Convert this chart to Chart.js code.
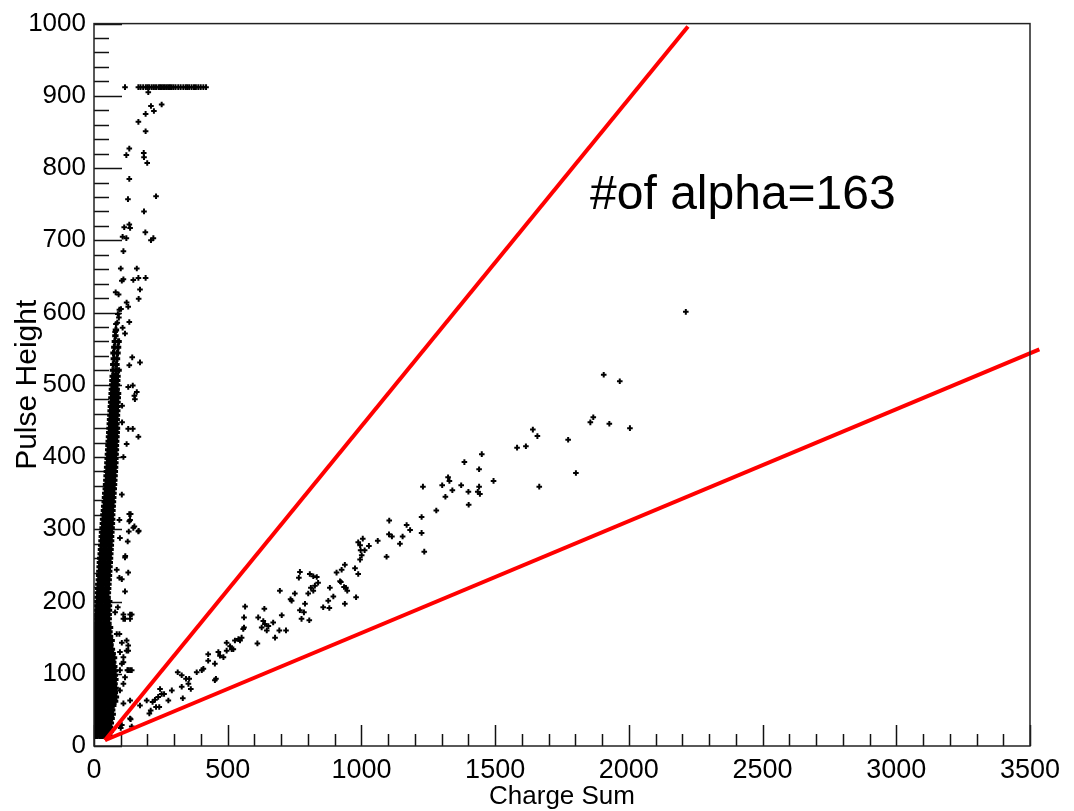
<!DOCTYPE html>
<html>
<head>
<meta charset="utf-8">
<title>Pulse Height vs Charge Sum</title>
<script src="https://cdn.jsdelivr.net/npm/chart.js@4"></script>
<style>
  html, body { margin: 0; padding: 0; background: #fff; }
  #wrap { width: 1074px; height: 811px; position: relative; }
</style>
</head>
<body>
<div id="wrap"><canvas id="c"></canvas></div>
<script>
// ---- axis ranges and tick values ----
const xRange = [0, 3500];
const yRange = [0, 1000];
const xMajorTicks = [0, 500, 1000, 1500, 2000, 2500, 3000, 3500];
const yMajorTicks = [0, 100, 200, 300, 400, 500, 600, 700, 800, 900, 1000];
const xMinorStep = 100;
const yMinorStep = 20;

// ---- gamma-like events: dense core near zero charge, one row per pulse height ----
const coreRows = [
  [14, [3, 12, 22, 31, 41, 50, 58]],
  [20, [5, 15, 24, 34, 43, 53, 62]],
  [26, [3, 13, 22, 32, 42, 51, 60]],
  [32, [6, 16, 25, 35, 44, 54, 63]],
  [38, [3, 12, 21, 31, 40, 50, 59, 66]],
  [44, [5, 14, 24, 33, 43, 52, 62, 70]],
  [50, [3, 13, 22, 32, 41, 51, 60, 68]],
  [56, [6, 15, 25, 34, 44, 53, 63, 72]],
  [62, [4, 13, 23, 32, 42, 51, 61, 71, 79]],
  [68, [6, 16, 25, 35, 44, 54, 63, 73, 82]],
  [74, [3, 13, 22, 32, 41, 51, 60, 70, 78]],
  [80, [5, 15, 24, 34, 43, 53, 62, 72, 81]],
  [86, [3, 12, 22, 31, 41, 50, 60, 69, 77]],
  [92, [6, 15, 25, 34, 44, 53, 63, 72, 80]],
  [98, [4, 13, 23, 32, 42, 51, 61, 70, 78]],
  [104, [5, 15, 24, 34, 43, 53, 62, 71, 79]],
  [110, [3, 12, 22, 31, 41, 50, 60, 68, 76]],
  [116, [6, 16, 25, 35, 44, 54, 63, 72]],
  [122, [4, 13, 23, 32, 42, 51, 60, 68, 75]],
  [128, [5, 15, 24, 34, 43, 53, 62, 70]],
  [134, [3, 12, 22, 31, 41, 50, 59, 67]],
  [140, [6, 15, 25, 34, 44, 53, 62]],
  [146, [4, 13, 23, 32, 42, 51, 60, 66]],
  [152, [5, 14, 24, 33, 43, 52, 60]],
  [158, [3, 12, 22, 31, 41, 50, 58]],
  [164, [6, 15, 25, 34, 44, 53, 60]],
  [170, [7, 17, 26, 36, 45, 54]],
  [176, [8, 18, 27, 37, 46, 55]],
  [182, [9, 19, 28, 38, 47, 55]],
  [188, [10, 20, 29, 39, 48, 56]],
  [194, [11, 21, 30, 40, 49, 56]],
  [200, [12, 22, 31, 41, 50, 57]],
  [206, [13, 23, 32, 42, 51]],
  [212, [14, 24, 33, 43, 52]],
  [218, [15, 25, 34, 44, 53]],
  [224, [16, 26, 35, 45, 54]],
  [230, [18, 27, 37, 46, 55]],
  [236, [19, 29, 38, 48, 56]],
  [242, [20, 30, 39, 49, 57]],
  [248, [21, 31, 40, 50, 58]],
  [254, [22, 32, 41, 51, 59]],
  [260, [23, 33, 42, 52, 60]],
  [266, [25, 34, 44, 53, 61]],
  [272, [26, 36, 45, 55, 62]],
  [278, [27, 37, 46, 56, 63]],
  [284, [28, 38, 47, 57, 64]],
  [290, [29, 39, 48, 58, 64]],
  [296, [30, 40, 49, 59, 65]],
  [302, [32, 41, 51, 60, 66]],
  [308, [33, 43, 52, 61, 67]],
  [314, [34, 44, 53, 62, 68]],
  [320, [35, 45, 54, 63, 68]],
  [326, [37, 46, 56, 64, 69]],
  [332, [38, 48, 57, 65, 70]],
  [338, [40, 49, 58, 66, 71]],
  [344, [41, 50, 59, 67, 72]],
  [350, [42, 51, 60, 68, 73]],
  [356, [44, 53, 62, 70, 74]],
  [362, [45, 54, 63, 71, 75]],
  [368, [46, 55, 64, 72, 76]],
  [374, [47, 56, 65, 73, 77]],
  [380, [48, 57, 66, 74, 78]],
  [386, [49, 58, 67, 75, 79]],
  [392, [50, 59, 68, 76, 80]],
  [398, [51, 60, 69, 77, 80]],
  [404, [52, 61, 70, 78, 81]],
  [410, [53, 62, 71, 78, 82]],
  [416, [54, 63, 72, 79, 82]],
  [422, [55, 64, 73, 80, 83]],
  [428, [56, 65, 74, 81, 84]],
  [434, [57, 66, 75, 82, 85]],
  [440, [58, 67, 76, 83, 86]],
  [446, [59, 68, 77, 84]],
  [452, [60, 69, 78, 85]],
  [458, [61, 70, 79, 86]],
  [464, [62, 71, 80, 87]],
  [470, [63, 72, 81, 88]],
  [476, [64, 73, 82, 88]],
  [482, [65, 74, 83, 89]],
  [488, [66, 75, 84, 90]],
  [494, [67, 76, 85]],
  [500, [68, 77, 86]],
  [506, [69, 78, 87]],
  [512, [70, 79, 88]],
  [520, [71, 82, 92]],
  [528, [72, 84]],
  [536, [74, 86]],
  [544, [73, 88]],
  [552, [76, 90]],
  [560, [78, 92]],
  [568, [80]],
  [576, [82]]
];

// saturated events (pulse height clipped by the ADC)
const saturationY = 912;
const saturationX = [116, 166, 174, 184, 194, 201, 207, 216, 224, 232, 241, 247, 253, 259, 265,
  272, 278, 284, 290, 297, 305, 315, 324, 334, 343, 349, 356, 365, 374, 381, 390, 399, 409, 419];

// isolated gamma-like events around the core
const haloPoints = [
  [203, 905], [213, 886], [253, 888], [224, 879], [193, 875], [166, 864], [193, 851], [132, 827],
  [121, 818], [186, 821], [187, 815], [199, 807], [132, 785], [127, 757], [232, 761], [187, 740],
  [113, 718], [132, 722], [135, 717], [107, 705], [121, 703], [192, 711], [213, 700], [222, 703],
  [110, 685], [100, 661], [160, 661], [193, 648], [104, 644], [110, 646], [147, 645], [166, 648],
  [172, 632], [167, 619], [81, 628], [92, 625], [122, 614], [128, 608], [95, 604], [101, 605],
  [89, 598], [93, 593], [87, 586], [82, 584], [107, 579], [132, 587], [79, 573], [116, 571],
  [143, 538], [132, 527], [172, 531], [128, 497], [145, 499], [160, 490], [153, 480], [151, 485],
  [105, 471], [105, 448], [128, 439], [145, 439], [166, 428], [122, 418], [110, 400], [104, 348],
  [132, 321], [95, 313], [132, 311], [151, 304], [167, 298], [130, 297], [97, 288], [126, 283],
  [117, 263], [137, 321], [135, 313], [147, 302], [166, 297], [116, 261], [85, 244], [104, 231],
  [95, 233], [128, 240], [116, 214], [89, 192], [110, 182], [141, 182], [135, 176], [110, 176],
  [95, 155], [122, 146], [128, 132], [97, 130], [110, 123], [135, 105], [125, 105], [104, 114],
  [116, 95], [110, 86], [97, 77], [135, 63], [110, 59], [97, 29], [135, 38], [79, 185],
  [116, 176], [135, 182], [85, 155], [104, 143], [122, 132], [128, 139], [110, 116], [128, 105],
  [141, 105], [97, 105], [104, 29], [141, 27]
];

// alpha candidates between the two cut lines
const alphaPoints = [
  [137, 37], [100, 25], [172, 56],
  [197, 63], [207, 45], [212, 49], [219, 61], [232, 54], [228, 64], [240, 68], [247, 79],
  [253, 72], [262, 72], [278, 63], [291, 77], [244, 54],
  [313, 102], [328, 98], [328, 82], [344, 93], [356, 93], [362, 79], [353, 86], [332, 66],
  [384, 102], [403, 105], [409, 107],
  [427, 127], [427, 118], [452, 114], [456, 93], [452, 91], [465, 130], [471, 125], [484, 123],
  [496, 132], [509, 138], [515, 134], [521, 134], [496, 143], [527, 146], [540, 148], [546, 146],
  [552, 150], [558, 162], [561, 164], [561, 178], [565, 193],
  [611, 142], [614, 178], [633, 173], [639, 169], [627, 164], [637, 190], [646, 160], [652, 166],
  [670, 171], [677, 150], [693, 160], [702, 181], [718, 160], [695, 215],
  [735, 203], [739, 201], [751, 211], [770, 241], [766, 233], [770, 188], [785, 185], [776, 176],
  [805, 174], [789, 197], [801, 211], [807, 238], [820, 235], [833, 234], [811, 219], [826, 222],
  [838, 226], [820, 215], [857, 192], [880, 191], [876, 201], [882, 219], [895, 207], [907, 240],
  [920, 228], [926, 244], [938, 251], [942, 219], [947, 215], [938, 197], [980, 206], [976, 246],
  [988, 238], [923, 227], [935, 220],
  [988, 282], [995, 278], [1005, 287], [997, 271], [1012, 271], [1028, 277], [1001, 264], [995, 258],
  [1061, 284], [1094, 262], [1104, 312], [1103, 293], [1114, 290],
  [1144, 280], [1154, 290], [1169, 306], [1182, 299], [1225, 317], [1225, 295], [1235, 269], [1280, 326],
  [1230, 359], [1302, 361], [1324, 372], [1329, 367], [1340, 354], [1314, 345], [1373, 361], [1400, 352],
  [1440, 359], [1435, 352], [1443, 349], [1401, 334],
  [1385, 393], [1450, 404], [1440, 383], [1494, 367],
  [1582, 413], [1615, 415], [1641, 438], [1658, 429], [1665, 359], [1773, 424], [1802, 378],
  [1856, 448], [1867, 455], [1927, 446], [2004, 440], [1906, 514], [1966, 505], [2213, 601]
];

// selection cuts (start and end points in Charge Sum / Pulse Height)
const upperCut = [[41, 8], [2221, 996]];
const lowerCut = [[41, 8], [3535, 549]];

const alphaLabel = '#of alpha=163';
const alphaLabelAnchor = [1855, 743];

const xTitle = 'Charge Sum';
const yTitle = 'Pulse Height';

// ---- build datasets ----
const toXY = arr => arr.map(p => ({ x: p[0], y: p[1] }));
const corePts = [];
coreRows.forEach(([yv, xs]) => xs.forEach(xv => corePts.push({ x: xv, y: yv })));
const satPts = saturationX.map(xv => ({ x: xv, y: saturationY }));

const FONT = "'Liberation Sans', Arial, Helvetica, sans-serif";
const plainNumber = v => String(v);

// inward ticks, frame and the count label
const frameAndTicks = {
  id: 'frameAndTicks',
  beforeDatasetsDraw(chart) {
    const { ctx, chartArea: a, scales: { x, y } } = chart;
    ctx.save();
    ctx.strokeStyle = '#111';
    ctx.lineWidth = 1.5;
    ctx.beginPath();
    for (let v = xRange[0]; v <= xRange[1]; v += xMinorStep) {
      const px = Math.round(x.getPixelForValue(v)) + 0.5;
      const len = xMajorTicks.includes(v) ? 21 : 12;
      ctx.moveTo(px, a.bottom);
      ctx.lineTo(px, a.bottom - len);
    }
    for (let v = yRange[0]; v <= yRange[1]; v += yMinorStep) {
      const py = Math.round(y.getPixelForValue(v)) + 0.5;
      const len = yMajorTicks.includes(v) ? 28 : 15;
      ctx.moveTo(a.left, py);
      ctx.lineTo(a.left + len, py);
    }
    ctx.stroke();
    ctx.restore();
  },
  afterDraw(chart) {
    const { ctx, chartArea: a, scales: { x, y } } = chart;
    ctx.save();
    ctx.strokeStyle = '#222';
    ctx.lineWidth = 1.5;
    ctx.strokeRect(a.left, a.top, a.right - a.left, a.bottom - a.top);
    ctx.fillStyle = '#000';
    ctx.font = '48px ' + FONT;
    ctx.textAlign = 'left';
    ctx.textBaseline = 'alphabetic';
    ctx.fillText(alphaLabel, x.getPixelForValue(alphaLabelAnchor[0]), y.getPixelForValue(alphaLabelAnchor[1]));
    ctx.restore();
  }
};

// plus-shaped event markers
const markers = (label, data, radius, width) => ({
  type: 'scatter',
  label,
  data,
  showLine: false,
  pointStyle: 'cross',
  pointRadius: radius,
  pointBorderWidth: width,
  pointBorderColor: '#000',
  pointBackgroundColor: '#000',
  borderColor: '#000',
  backgroundColor: '#000'
});

new Chart(document.getElementById('c'), {
  type: 'scatter',
  data: {
    datasets: [
      { type: 'line', label: 'upper cut', data: toXY(upperCut), borderColor: '#ff0000', borderWidth: 4,
        pointRadius: 0, fill: false, clip: false, tension: 0 },
      { type: 'line', label: 'lower cut', data: toXY(lowerCut), borderColor: '#ff0000', borderWidth: 4,
        pointRadius: 0, fill: false, clip: false, tension: 0 },
      markers('alpha', toXY(alphaPoints), 2.8, 2),
      markers('halo', toXY(haloPoints), 2.8, 2),
      markers('saturated', satPts, 2.8, 2),
      markers('core', corePts, 3.2, 3)
    ]
  },
  options: {
    responsive: true,
    maintainAspectRatio: false,
    animation: false,
    events: [],
    layout: { padding: { top: 19, right: 44, left: 0, bottom: 0 } },
    plugins: { legend: { display: false }, tooltip: { enabled: false } },
    elements: { point: { hoverRadius: 0 } },
    scales: {
      x: {
        type: 'linear', min: xRange[0], max: xRange[1],
        grid: { display: false, drawTicks: false },
        border: { display: false },
        ticks: { stepSize: 500, padding: 8, color: '#000', maxRotation: 0, autoSkip: false,
          callback: plainNumber, font: { family: FONT, size: 27 } },
        title: { display: true, text: xTitle, color: '#000', align: 'center',
          font: { family: FONT, size: 26, lineHeight: 1 }, padding: { top: 0, bottom: 1 } },
        afterFit(s) { s.height = 65; }
      },
      y: {
        type: 'linear', min: yRange[0], max: yRange[1],
        grid: { display: false, drawTicks: false },
        border: { display: false },
        ticks: { stepSize: 100, padding: 8, color: '#000', autoSkip: false,
          callback: plainNumber, font: { family: FONT, size: 26 } },
        title: { display: true, text: yTitle, color: '#000',
          font: { family: FONT, size: 30, lineHeight: 1 }, padding: { top: 13, bottom: 0 } },
        afterFit(s) { s.width = 94; }
      }
    }
  },
  plugins: [frameAndTicks]
});
</script>
</body>
</html>
